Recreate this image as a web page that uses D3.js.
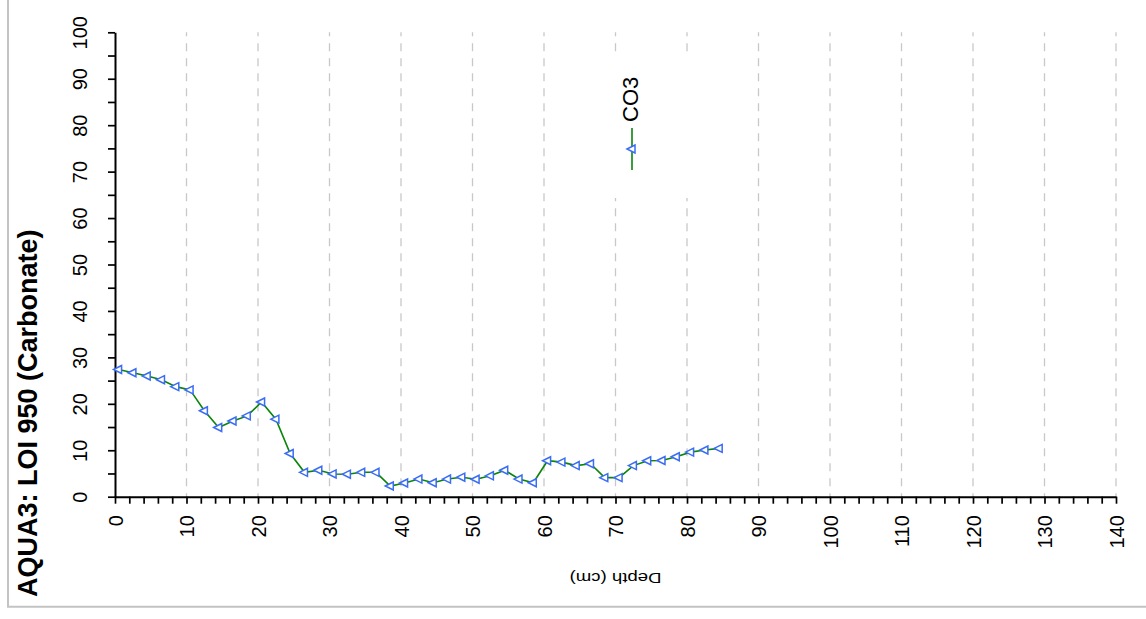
<!DOCTYPE html>
<html>
<head>
<meta charset="utf-8">
<script src="https://cdn.jsdelivr.net/npm/d3@7"></script>
<style>
  html, body { margin: 0; padding: 0; background: #fff; }
  svg { display: block; font-family: "Liberation Sans", Arial, sans-serif; }
</style>
</head>
<body>
<svg id="chart" width="1146" height="619"></svg>
<script>
// Sample depths (cm) and carbonate content (LOI 950, %)
const depthCm = [0.5, 2.5, 4.5, 6.5, 8.5, 10.5, 12.5, 14.5, 16.5, 18.5,
                 20.5, 22.5, 24.5, 26.5, 28.5, 30.5, 32.5, 34.5, 36.5, 38.5,
                 40.5, 42.5, 44.5, 46.5, 48.5, 50.5, 52.5, 54.5, 56.5, 58.5,
                 60.5, 62.5, 64.5, 66.5, 68.5, 70.5, 72.5, 74.5, 76.5, 78.5,
                 80.5, 82.5, 84.5];
const co3 = [27.4, 26.7, 26.0, 25.2, 23.7, 23.0, 18.5, 14.9, 16.3, 17.4,
             20.4, 16.7, 9.3, 5.25, 5.7, 4.9, 4.85, 5.25, 5.25, 2.3,
             2.95, 3.8, 3.0, 3.8, 4.2, 3.75, 4.5, 5.7, 3.8, 3.0,
             7.75, 7.45, 6.7, 7.1, 4.1, 4.1, 6.7, 7.75, 7.8, 8.6,
             9.6, 10.05, 10.4];

const depthTicks = [0, 2, 4, 6, 8, 10, 12, 14, 16, 18, 20, 22, 24, 26, 28, 30, 32, 34, 36, 38,
                    40, 42, 44, 46, 48, 50, 52, 54, 56, 58, 60, 62, 64, 66, 68, 70, 72, 74, 76, 78,
                    80, 82, 84, 86, 88, 90, 92, 94, 96, 98, 100, 102, 104, 106, 108, 110, 112, 114,
                    116, 118, 120, 122, 124, 126, 128, 130, 132, 134, 136, 138, 140];
const depthGrid = [10, 20, 30, 40, 50, 60, 70, 80, 90, 100, 110, 120, 130, 140];
const valueTicks = [0, 5, 10, 15, 20, 25, 30, 35, 40, 45, 50, 55, 60, 65, 70, 75, 80, 85, 90, 95, 100];

const seriesName = "CO3";
const chartTitle = "AQUA3: LOI 950 (Carbonate)";
const depthTitle = "Depth (cm)";

const lineColor = "#0a850a";
const markerColor = "#3a6cf4";

const svg = d3.select("#chart");

const x = d3.scaleLinear().domain([0, 140]).range([115, 1116]);
const y = d3.scaleLinear().domain([0, 100]).range([496.7, 32.3]);

// outer frame (left and bottom edges)
svg.append("path")
  .attr("d", "M8,0 V606.7 H1146")
  .attr("fill", "none")
  .attr("stroke", "#c3c3c3")
  .attr("stroke-width", 2);

// dashed vertical gridlines
svg.append("g").selectAll("line")
  .data(depthGrid)
  .join("line")
  .attr("x1", d => x(d)).attr("x2", d => x(d))
  .attr("y1", y(100)).attr("y2", y(0))
  .attr("stroke", "#c8c8c8")
  .attr("stroke-width", 1.3)
  .attr("stroke-dasharray", "8,7")
  .attr("stroke-dashoffset", 4);

// legend panel background (hides the gridlines behind it)
svg.append("rect")
  .attr("x", 580).attr("y", 53)
  .attr("width", 140).attr("height", 145)
  .attr("fill", "#fff");

// value axis (left)
const yAxis = d3.axisLeft(y)
  .tickValues(valueTicks)
  .tickSize(7)
  .tickSizeOuter(0)
  .tickFormat(d => d % 10 === 0 ? d : "");
const gy = svg.append("g").attr("transform", `translate(${x(0)},0)`).call(yAxis);
gy.select(".domain").attr("stroke", "#000").attr("stroke-width", 2);
gy.selectAll(".tick line").attr("stroke", "#000").attr("stroke-width", 1.7);
gy.selectAll(".tick text")
  .attr("x", null).attr("y", null).attr("dy", null)
  .attr("transform", "translate(-28.5,0) rotate(-90)")
  .attr("text-anchor", "middle")
  .attr("fill", "#000")
  .style("font-size", "20px");

// depth axis (bottom)
const xAxis = d3.axisBottom(x)
  .tickValues(depthTicks)
  .tickSize(7)
  .tickSizeOuter(0)
  .tickFormat(d => d % 10 === 0 ? d : "");
const gx = svg.append("g").attr("transform", `translate(0,${y(0)})`).call(xAxis);
gx.select(".domain").attr("stroke", "#000").attr("stroke-width", 2);
gx.selectAll(".tick line").attr("stroke", "#000").attr("stroke-width", 1.7);
gx.selectAll(".tick text")
  .attr("x", null).attr("y", null)
  .attr("dy", "0.36em")
  .attr("transform", "translate(0,18.5) rotate(-90)")
  .attr("text-anchor", "end")
  .attr("fill", "#000")
  .style("font-size", "20px");

// depth axis title, drawn upside down
svg.append("text")
  .attr("transform", `translate(${(x(0) + x(140)) / 2},573) rotate(180)`)
  .attr("text-anchor", "middle")
  .attr("textLength", 92)
  .attr("lengthAdjust", "spacingAndGlyphs")
  .style("font-size", "15px")
  .text(depthTitle);

// chart title
svg.append("text")
  .attr("transform", "translate(37,597) rotate(-90)")
  .attr("text-anchor", "start")
  .style("font-size", "27px")
  .style("font-weight", "bold")
  .text(chartTitle);

// left-pointing triangle marker
const tri = "M-5,0 L3,-4 L3,4 Z";

const pts = depthCm.map((d, i) => [d, co3[i]]);

svg.append("path")
  .datum(pts)
  .attr("fill", "none")
  .attr("stroke", lineColor)
  .attr("stroke-width", 1.6)
  .attr("d", d3.line().x(d => x(d[0])).y(d => y(d[1])));

svg.append("g").selectAll("path")
  .data(pts)
  .join("path")
  .attr("d", tri)
  .attr("transform", d => `translate(${x(d[0])},${y(d[1])})`)
  .attr("fill", "#fff")
  .attr("stroke", markerColor)
  .attr("stroke-width", 1.5);

// legend
const lg = svg.append("g");
lg.append("line")
  .attr("x1", 632).attr("x2", 632)
  .attr("y1", 128).attr("y2", 170)
  .attr("stroke", lineColor)
  .attr("stroke-width", 1.6);
lg.append("path")
  .attr("d", tri)
  .attr("transform", "translate(632,149)")
  .attr("fill", "#fff")
  .attr("stroke", markerColor)
  .attr("stroke-width", 1.5);
lg.append("text")
  .attr("transform", "translate(637.5,122) rotate(-90)")
  .attr("text-anchor", "start")
  .style("font-size", "22px")
  .text(seriesName);
</script>
</body>
</html>
